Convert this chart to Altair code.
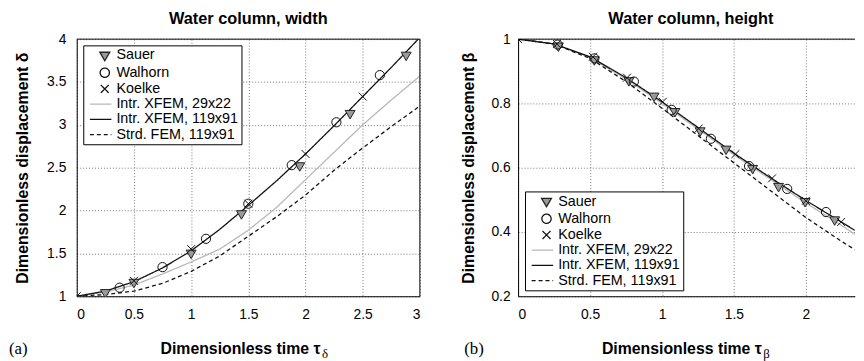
import altair as alt
import pandas as pd

SERIES = ["Sauer", "Walhorn", "Koelke",
          "Intr. XFEM, 29x22", "Intr. XFEM, 119x91", "Strd. FEM, 119x91"]

# ---------------- panel (a): width ----------------
a_line_t = [0.0, 0.25, 0.5, 0.75, 1.0, 1.25, 1.5, 1.75, 2.0, 2.25, 2.5, 2.75, 3.0]
a_xfem_coarse = [1.0, 1.05, 1.13, 1.26, 1.40, 1.55, 1.77, 2.04, 2.36, 2.68, 3.0, 3.29, 3.57]
a_xfem_fine = [1.0, 1.06, 1.17, 1.33, 1.53, 1.78, 2.06, 2.35, 2.66, 2.99, 3.33, 3.67, 4.02]
a_fem = [1.0, 1.02, 1.06, 1.15, 1.29, 1.47, 1.70, 1.93, 2.18, 2.47, 2.73, 2.98, 3.22]

a_sauer_t = [0.25, 0.50, 1.00, 1.44, 1.95, 2.39, 2.88]
a_sauer_v = [1.04, 1.16, 1.50, 1.96, 2.52, 3.13, 3.81]
a_walhorn_t = [0.375, 0.75, 1.13, 1.50, 1.88, 2.27, 2.65]
a_walhorn_v = [1.10, 1.34, 1.67, 2.08, 2.53, 3.03, 3.58]
a_koelke_t = [0.0, 0.5, 1.0, 1.5, 2.0, 2.5]
a_koelke_v = [1.0, 1.18, 1.55, 2.08, 2.66, 3.33]

# ---------------- panel (b): height ----------------
b_line_t = [0.0, 0.25, 0.5, 0.75, 1.0, 1.25, 1.5, 1.75, 2.0, 2.25, 2.34]
b_xfem_coarse = [1.0, 0.985, 0.943, 0.876, 0.800, 0.720, 0.640, 0.565, 0.490, 0.420, 0.393]
b_xfem_fine = [1.0, 0.985, 0.945, 0.880, 0.805, 0.725, 0.645, 0.570, 0.498, 0.430, 0.405]
b_fem = [1.0, 0.985, 0.940, 0.868, 0.785, 0.700, 0.615, 0.530, 0.445, 0.370, 0.345]

b_sauer_t = [0.28, 0.53, 0.77, 0.945, 1.09, 1.265, 1.445, 1.63, 1.81, 1.995, 2.20]
b_sauer_v = [0.978, 0.935, 0.870, 0.822, 0.774, 0.714, 0.657, 0.597, 0.541, 0.494, 0.437]
b_walhorn_t = [0.275, 0.53, 0.805, 1.067, 1.34, 1.605, 1.87, 2.14]
b_walhorn_v = [0.983, 0.940, 0.868, 0.780, 0.690, 0.605, 0.534, 0.462]
b_koelke_t = [0.0, 0.27, 0.52, 0.757, 1.005, 1.255, 1.51, 1.765, 2.0, 2.245]
b_koelke_v = [1.0, 0.985, 0.945, 0.880, 0.805, 0.722, 0.642, 0.567, 0.497, 0.431]

FONT = "Liberation Sans"
SYM = 121  # symbol size: one unit of a shape path = sqrt(SYM)/2 = 5.5 px
TRI = "M-0.91,-0.6L0.91,-0.6L0,0.96Z"
CIRC = "M0.85,0A0.85,0.85 0 1,1 -0.85,0A0.85,0.85 0 1,1 0.85,0Z"
XMARK = "M-0.73,-0.73L0.73,0.73M-0.73,0.73L0.73,-0.73"
LINE = "M-2.73,0L1.22,0"

shape_scale = alt.Scale(domain=SERIES, range=[TRI, CIRC, XMARK, LINE, LINE, LINE])
stroke_scale = alt.Scale(domain=SERIES, range=["#222222", "#111111", "#111111", "#b8b8b8", "#111111", "#111111"])
fill_scale = alt.Scale(domain=SERIES, range=["#9a9a9a", "transparent", "transparent", "transparent", "transparent", "transparent"])
dash_scale = alt.Scale(domain=SERIES, range=[[1, 0], [1, 0], [1, 0], [1, 0], [1, 0], [4, 3]])


def points_df(groups):
    rows = []
    for name, ts, vs in groups:
        for t, v in zip(ts, vs):
            rows.append({"series": name, "t": t, "v": v})
    return pd.DataFrame(rows)


def panel(title, title_dx, pts, lines, xdom, xvals, ydom, yvals, W, H, ytitle,
          y_label_pad, y_title_pad, legend_xy, tag, tag_x, sub, right_border):
    legend = alt.Legend(orient="none", legendX=legend_xy[0], legendY=legend_xy[1], title=None,
                        strokeColor="black", fillColor="white", padding=3,
                        labelFont=FONT, labelFontSize=14.5, labelColor="black",
                        rowPadding=0.4, symbolSize=SYM, symbolStrokeWidth=1.3,
                        symbolOffset=11.5, labelOffset=4.5)
    xs = alt.Scale(domain=xdom, nice=False, zero=False)
    ys = alt.Scale(domain=ydom, nice=False, zero=False)
    xaxis = alt.Axis(values=xvals, format="~g", title=None, ticks=False, labelPadding=11)
    yaxis = alt.Axis(values=yvals, format="~g", title=ytitle, ticks=False,
                     labelPadding=y_label_pad, titlePadding=y_title_pad)
    line_layer = alt.Chart(lines).mark_line(strokeWidth=1.3, clip=True).encode(
        x=alt.X("t:Q", scale=xs, axis=xaxis),
        y=alt.Y("v:Q", scale=ys, axis=yaxis),
        stroke=alt.Stroke("series:N", scale=stroke_scale, legend=legend),
        strokeDash=alt.StrokeDash("series:N", scale=dash_scale, legend=legend),
        detail="series:N",
    )
    point_layer = alt.Chart(pts).mark_point(strokeWidth=1, opacity=1, size=SYM, clip=True).encode(
        x=alt.X("t:Q", scale=xs, axis=xaxis),
        y=alt.Y("v:Q", scale=ys, axis=yaxis),
        shape=alt.Shape("series:N", scale=shape_scale, legend=legend),
        stroke=alt.Stroke("series:N", scale=stroke_scale, legend=legend),
        fill=alt.Fill("series:N", scale=fill_scale, legend=legend),
    )
    one = pd.DataFrame({"k": [0]})
    layers = [line_layer, point_layer]
    layers.append(alt.Chart(one).mark_rule(color="black", strokeWidth=1).encode(
        x=alt.value(0), x2=alt.value(W), y=alt.value(0)))
    if right_border:
        layers.append(alt.Chart(one).mark_rule(color="black", strokeWidth=1).encode(
            x=alt.value(W), y=alt.value(0), y2=alt.value(H)))
    layers.append(alt.Chart(one).mark_text(
        text=title, font=FONT, fontSize=16.5, fontWeight="bold", align="center",
        baseline="alphabetic", color="black").encode(x=alt.value(W / 2 + title_dx), y=alt.value(-15.3)))
    layers.append(alt.Chart(one).mark_text(
        text="Dimensionless time τ", font=FONT, fontSize=16, fontWeight="bold", align="right",
        baseline="alphabetic", color="black").encode(x=alt.value(246.5), y=alt.value(318)))
    layers.append(alt.Chart(one).mark_text(
        text=sub, font="Liberation Serif", fontSize=13, align="left", baseline="alphabetic",
        color="black").encode(x=alt.value(248), y=alt.value(322)))
    layers.append(alt.Chart(one).mark_text(
        text=tag, font="Liberation Serif", fontSize=17, align="left", baseline="alphabetic",
        color="black").encode(x=alt.value(tag_x), y=alt.value(318)))
    return alt.layer(*layers).properties(width=W, height=H)


pa = points_df([("Sauer", a_sauer_t, a_sauer_v), ("Walhorn", a_walhorn_t, a_walhorn_v),
                ("Koelke", a_koelke_t, a_koelke_v)])
la = points_df([("Intr. XFEM, 29x22", a_line_t, a_xfem_coarse),
                ("Intr. XFEM, 119x91", a_line_t, a_xfem_fine),
                ("Strd. FEM, 119x91", a_line_t, a_fem)])
pb = points_df([("Sauer", b_sauer_t, b_sauer_v), ("Walhorn", b_walhorn_t, b_walhorn_v),
                ("Koelke", b_koelke_t, b_koelke_v)])
lb = points_df([("Intr. XFEM, 29x22", b_line_t, b_xfem_coarse),
                ("Intr. XFEM, 119x91", b_line_t, b_xfem_fine),
                ("Strd. FEM, 119x91", b_line_t, b_fem)])

left = panel("Water column, width", 0, pa, la, [0, 3], [0, 0.5, 1, 1.5, 2, 2.5, 3],
             [1, 4], [1, 1.5, 2, 2.5, 3, 3.5, 4], 347, 260,
             "Dimensionless displacement δ", 11, 16, (6.6, 6.3), "(a)", -68.5, "δ", True)
right = panel("Water column, height", 4.5, pb, lb, [0, 2.34], [0, 0.5, 1, 1.5, 2],
              [0.2, 1], [0.2, 0.4, 0.6, 0.8, 1], 340.5, 260,
              "Dimensionless displacement β", 8, 15, (7, 154), "(b)", -54.5, "β", False)

chart = alt.hconcat(left, right, spacing=99.3, bounds="flush").resolve_scale(
    x="independent", y="independent", shape="independent", stroke="independent",
    fill="independent", strokeDash="independent"
).properties(
    padding={"left": 0.5, "top": 0.5, "right": 0, "bottom": 0},
    background="white",
).configure_view(stroke=None).configure_axis(
    labelFont=FONT, labelFontSize=14, labelColor="black",
    titleFont=FONT, titleFontSize=16, titleFontWeight="bold", titleColor="black",
    domainColor="black", domainWidth=1,
    grid=True, gridColor="#555555", gridDash=[1, 2], gridWidth=0.8, gridOpacity=1,
)

chart.save("out.html", embed_options={"renderer": "svg", "actions": False})
